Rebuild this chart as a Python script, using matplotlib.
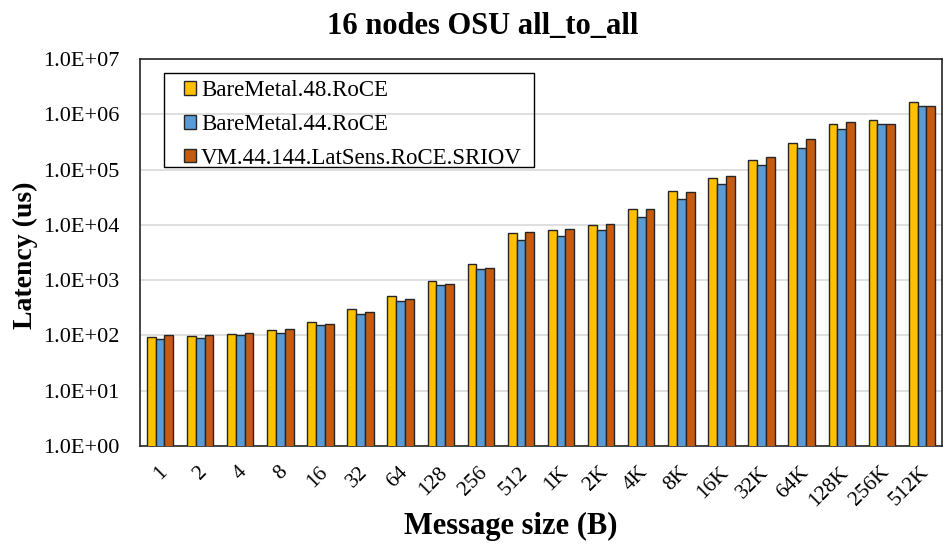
import matplotlib
matplotlib.use("Agg")
import matplotlib.pyplot as plt
import matplotlib.transforms as mtransforms
from matplotlib.patches import Rectangle
import numpy as np
from matplotlib.ticker import FixedLocator, FuncFormatter

plt.rcParams['font.family'] = ['Liberation Serif', 'DejaVu Serif']

categories = ["1", "2", "4", "8", "16", "32", "64", "128", "256", "512",
              "1K", "2K", "4K", "8K", "16K", "32K", "64K", "128K", "256K", "512K"]
series_names = ["BareMetal.48.RoCE", "BareMetal.44.RoCE", "VM.44.144.LatSens.RoCE.SRIOV"]
bm48 = [93, 97, 104, 123, 178, 299, 515, 973, 1970, 7070,
        8130, 10000, 19500, 41100, 69700, 150000, 302000, 677000, 798000, 1650000]
bm44 = [86, 90, 103, 110, 152, 243, 426, 813, 1600, 5360,
        6330, 8010, 13970, 29900, 55800, 123000, 245000, 543000, 663000, 1400000]
vm = [100, 100, 109, 132, 164, 265, 449, 847, 1690, 7470,
      8590, 10570, 19190, 40000, 78000, 167000, 353000, 725000, 663000, 1400000]
colors = ["#FFC000", "#5B9BD5", "#C55A11"]

W, H = 948, 544
fig = plt.figure(figsize=(W/100, H/100), dpi=100)
ax = fig.add_axes([140/W, 1-446/H, (942-140)/W, (446-59)/H])

x = np.arange(len(categories))
w = 0.22
for i, (vals, name, c) in enumerate(zip([bm48, bm44, vm], series_names, colors)):
    ax.bar(x + (i-1)*w, vals, width=w, color=c, edgecolor="#262626",
           linewidth=1.0, label=name, zorder=3)

ax.set_yscale("log")
ax.set_ylim(1, 1e7)
ax.set_xlim(-0.5, len(categories)-0.5)
ax.yaxis.set_major_locator(FixedLocator([10.0**k for k in range(0, 8)]))
ax.yaxis.set_minor_locator(FixedLocator([]))
ax.yaxis.set_major_formatter(FuncFormatter(lambda v, p: "%.1fE+%02d" % (1.0, int(round(np.log10(v))))))
ax.grid(axis="y", color="#D9D9D9", linewidth=1.2, zorder=0)
ax.set_axisbelow(True)
for s in ax.spines.values():
    s.set_color("#262626")
    s.set_linewidth(1.2)
ax.tick_params(axis="both", length=0, colors="black")
ax.tick_params(axis="y", pad=15, labelsize=16)
ax.set_xticks(x)
ax.set_xticklabels(categories, rotation=45, ha="right", va="center",
                   rotation_mode="anchor", fontsize=15.5)
ax.tick_params(axis="x", pad=17)
offset = mtransforms.ScaledTranslation(3/72, 0, fig.dpi_scale_trans)
for lab in ax.get_xticklabels():
    lab.set_transform(lab.get_transform() + offset)

fig.text(483/W, 1-34/H, "16 nodes OSU all_to_all", fontsize=22, fontweight="bold",
         ha="center", va="baseline")
fig.text(25/W, 1-255/H, "Latency (us)", fontsize=20, fontweight="bold",
         ha="center", va="center", rotation=90)
fig.text(511/W, 1-534/H, "Message size (B)", fontsize=22, fontweight="bold",
         ha="center", va="baseline")

fig.patches.append(Rectangle((164/W, 1-167/H), (534-164)/W, (167-73)/H,
                             transform=fig.transFigure, fill=False,
                             edgecolor="black", linewidth=1.0, zorder=5))
leg = ax.legend(loc="upper left", bbox_to_anchor=(184/W, 1-80/H),
                bbox_transform=fig.transFigure, fontsize=16.5, frameon=False,
                handlelength=0.54, handleheight=0.54, handletextpad=0.2,
                labelspacing=0.56, borderpad=0.0, borderaxespad=0.0)

fig.savefig("out.png", dpi=100)
